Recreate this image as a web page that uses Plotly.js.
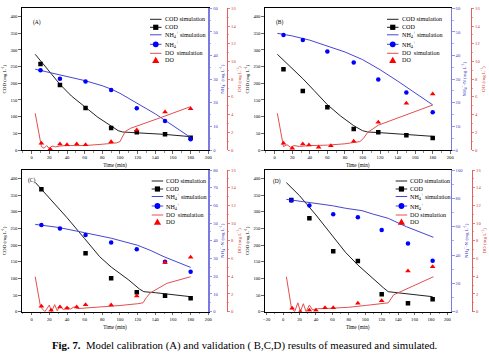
<!DOCTYPE html>
<html><head><meta charset="utf-8">
<script src="https://cdn.plot.ly/plotly-3.0.1.min.js"></script>
<style>html,body{margin:0;padding:0;background:#fff}#chart{width:489px;height:356px}</style>
</head><body><div id="chart"></div>
<script>
// ---------- Panel A (calibration) ----------
const tMeasA = [10, 32, 61, 90, 119, 151, 180];
const codMeasA = [258, 195, 126, 66, 53, 47, 37];
const nhMeasA = [33.8, 30.2, 29.0, 25.4, 17.7, 12.3, 4.5];
const tDoA = [11, 21, 32, 40, 51, 61, 90, 119, 151, 180];
const doMeasA = [0.75, 0.1, 0.68, 0.6, 0.68, 0.6, 0.94, 2.26, 4.3, 4.67];
const tCodSimA = [4, 10, 20, 32, 45, 61, 75, 90, 98, 103, 120, 150, 180];
const codSimA = [287, 268, 236, 197, 162, 128, 98, 72, 58, 54, 52, 47, 40];
const tNhSimA = [4, 20, 40, 60, 80, 90, 100, 120, 140, 160, 180];
const nhSimA = [34.2, 32.8, 31.2, 29.4, 27.2, 25.8, 24.0, 19.7, 15.3, 10.3, 5.3];
const tDoSimA = [4, 11, 14, 17, 20, 23, 27, 32, 40, 60, 80, 96, 100, 103, 106, 112, 120, 150, 180];
const doSimA = [4.14, 0.4, 0.2, 0.5, 0.15, 0.45, 0.35, 0.45, 0.5, 0.5, 0.65, 0.8, 0.95, 1.5, 2.1, 2.45, 2.75, 3.8, 4.9];

// ---------- Panel B ----------
const tMeasB = [10, 32, 60, 90, 118, 150, 180];
const codMeasB = [242, 177, 128, 63, 53, 44, 36];
const nhMeasB = [48.7, 46.6, 41.7, 37.1, 29.9, 24.4, 16.0];
const tDoB = [10, 20, 32, 39, 50, 64, 90, 118, 150, 180];
const doMeasB = [0.75, 0.19, 0.68, 0.56, 0.3, 0.49, 0.98, 3.12, 5.27, 6.33];
const tCodSimB = [3, 15, 32, 45, 60, 75, 90, 100, 106, 120, 150, 180];
const codSimB = [287, 258, 214, 178, 136, 102, 73, 58, 54, 52, 47, 41];
const tNhSimB = [3, 20, 40, 60, 80, 100, 120, 140, 160, 180];
const nhSimB = [49.4, 48.3, 46.5, 44.0, 41.5, 38.3, 34.0, 29.2, 24.3, 19.1];
const tDoSimB = [3, 10, 14, 18, 22, 28, 40, 60, 80, 97, 101, 106, 118, 150, 180];
const doSimB = [4.14, 0.38, 0.6, 0.3, 0.5, 0.4, 0.5, 0.55, 0.7, 0.95, 1.3, 2.0, 2.8, 3.95, 5.08];

// ---------- Panel C ----------
const tCodMeasC = [11, 61, 90, 119, 151, 180];
const codMeasC = [367, 175, 100, 58, 48, 40];
const tNhMeasC = [11, 32, 61, 90, 119, 151, 180];
const nhMeasC = [48.9, 47.0, 43.3, 39.0, 35.2, 28.2, 22.6];
const tDoC = [11, 22, 32, 40, 51, 61, 90, 119, 151, 180];
const doMeasC = [0.62, 0.15, 0.52, 0.38, 0.53, 0.78, 0.76, 1.77, 5.55, 6.14];
const tCodSimC = [4, 20, 40, 60, 77, 90, 110, 122, 127, 140, 160, 180];
const codSimC = [388, 342, 282, 219, 165, 134, 95, 68, 60, 57, 52, 45];
const tNhSimC = [4, 30, 60, 90, 120, 135, 150, 180];
const nhSimC = [49.3, 47.6, 44.6, 41.5, 37.5, 34.5, 31.0, 25.0];
const tDoSimC = [4, 10, 15, 20, 22.5, 26, 29, 32, 36, 40, 44, 48, 52, 60, 80, 100, 120, 126, 130, 134, 153, 180];
const doSimC = [3.95, 0.56, 0.0, 0.75, 0.0, 0.8, 0.1, 0.7, 0.2, 0.6, 0.3, 0.55, 0.35, 0.4, 0.5, 0.7, 0.9, 1.0, 1.6, 2.1, 3.2, 3.95];

// ---------- Panel D ----------
const tMeasD = [10, 32, 61, 91, 120, 152, 182];
const codMeasD = [335, 280, 181, 152, 52, 25, 37];
const nhMeasD = [78.5, 75.0, 68.8, 66.6, 57.7, 48.2, 36.0];
const tDoD = [11, 21, 32, 40, 51, 61, 91, 120, 152, 182];
const doMeasD = [0.38, 0.0, 0.15, 0.15, 0.45, 0.45, 0.95, 1.24, 4.6, 5.08];
const tCodSimD = [4, 20, 40, 60, 76, 91, 110, 122, 128, 140, 160, 182];
const codSimD = [387, 348, 290, 226, 178, 140, 97, 72, 60, 57, 52, 45];
const tNhSimD = [4, 30, 60, 76, 96, 110, 128, 150, 183];
const nhSimD = [79.3, 77.3, 74.8, 73.0, 71.3, 68.8, 65.9, 60.0, 52.5];
const tDoSimD = [4, 10, 14, 18, 21, 24.6, 28, 32, 36, 42, 50, 60, 80, 100, 120, 128, 134.5, 157, 183];
const doSimD = [3.95, 0.5, 0.0, 1.0, 0.0, 0.9, 0.0, 0.75, 0.2, 0.35, 0.35, 0.4, 0.5, 0.7, 0.9, 1.0, 1.9, 2.82, 3.95];

const legendLabels = ['COD simulation', 'COD', 'NH<sub>4</sub><sup>+</sup> simulation', 'NH<sub>4</sub><sup>+</sup>', 'DO\u00a0 simulation', 'DO'];
const legendLabelsD = ['COD simulation', 'COD', 'NH<sub>4</sub><sup>+</sup> simulation', 'NH<sub>4</sub><sup>+</sup>', 'DO simulation', 'DO'];
const panelLabels = ['(A)', '(B)', '(C)', '(D)'];
const nhTitles = ['NH<sub>4</sub><sup>+</sup> (mg L<sup>-1</sup>)', 'NH<sub>4</sub><sup>+</sup>-N (mg L<sup>-1</sup>)', 'NH<sub>4</sub><sup>+</sup>-N (mg L<sup>-1</sup>)', 'NH<sub>4</sub><sup>+</sup>-N (mg L<sup>-1</sup>)'];
const caption = '<b>Fig. 7.</b>\u00a0 Model calibration (A) and validation ( B,C,D) results of measured and simulated.';

const W = 489, H = 356;
const px = v => v / W;
const py = v => 1 - v / H;
const FONT = 'Liberation Serif, Times New Roman, serif';
const BLACK = '#222222', BLUE_L = '#4646d2', BLUE_M = '#0000ff', RED_L = '#e05050', RED_M = '#ff0000';
const BLUE_AX = '#7a7ae0', RED_AX = '#e06060';

const panels = [
  {rect:[21.7, 8.3, 208.3, 150], doPos:226.7, xr:[-11.3, 200], nh:[0, 60], nhDt:10, lx:150, lab:[36.7, 22.7],
   tcm:tMeasA, cm:codMeasA, tnm:tMeasA, nm:nhMeasA, tdm:tDoA, dm:doMeasA, tcs:tCodSimA, cs:codSimA, tns:tNhSimA, ns:nhSimA, tds:tDoSimA, ds:doSimA, leg:legendLabels},
  {rect:[264.7, 8.3, 450.7, 150], doPos:470.7, xr:[-11.4, 200.5], nh:[0, 60], nhDt:10, lx:387, lab:[280, 22.7],
   tcm:tMeasB, cm:codMeasB, tnm:tMeasB, nm:nhMeasB, tdm:tDoB, dm:doMeasB, tcs:tCodSimB, cs:codSimB, tns:tNhSimB, ns:nhSimB, tds:tDoSimB, ds:doSimB, leg:legendLabels},
  {rect:[21.7, 170, 208.3, 311.7], doPos:226.7, xr:[-11.3, 200], nh:[0, 80], nhDt:10, lx:151.7, lab:[32.3, 180],
   tcm:tCodMeasC, cm:codMeasC, tnm:tNhMeasC, nm:nhMeasC, tdm:tDoC, dm:doMeasC, tcs:tCodSimC, cs:codSimC, tns:tNhSimC, ns:nhSimC, tds:tDoSimC, ds:doSimC, leg:legendLabels},
  {rect:[264.7, 170, 450.7, 311.7], doPos:471.7, xr:[-22.4, 204], nh:[0, 100], nhDt:20, lx:395.7, lab:[277.3, 181],
   tcm:tMeasD, cm:codMeasD, tnm:tMeasD, nm:nhMeasD, tdm:tDoD, dm:doMeasD, tcs:tCodSimD, cs:codSimD, tns:tNhSimD, ns:nhSimD, tds:tDoSimD, ds:doSimD, leg:legendLabelsD}
];

const traces = [];
const layout = {
  width: W, height: H, margin:{l:0, r:0, t:0, b:0}, showlegend:false,
  paper_bgcolor:'#fff', plot_bgcolor:'rgba(0,0,0,0)',
  font:{family:FONT, size:5, color:'#000'},
  shapes:[], annotations:[]
};
const tf = {family:FONT, size:4.6};

panels.forEach((p, i) => {
  const xn = i + 1, yc = 3*i + 1, yn = 3*i + 2, yd = 3*i + 3;
  const xk = xn === 1 ? 'x' : 'x' + xn;
  const yck = yc === 1 ? 'y' : 'y' + yc;
  const ynk = 'y' + yn, ydk = 'y' + yd;
  const xdom = [px(p.rect[0]), px(p.rect[2])];
  const ydom = [py(p.rect[3]), py(p.rect[1])];
  layout['xaxis' + (xn === 1 ? '' : xn)] = {
    domain:xdom, anchor:yck, range:p.xr, tickmode:'linear', tick0:0, dtick:20,
    showline:true, linecolor:'#000', linewidth:1, mirror:true, ticks:'outside', ticklen:2.5, tickwidth:0.8,
    minor:{ticks:'outside', dtick:10, ticklen:1.5, tickwidth:0.6}, showgrid:false, zeroline:false,
    tickfont:tf, title:{text:'Time (min)', font:{family:FONT, size:5.2}, standoff:4}
  };
  layout['yaxis' + (yc === 1 ? '' : yc)] = {
    domain:ydom, anchor:xk, range:[0, 425], tickmode:'linear', tick0:0, dtick:50,
    showline:true, linecolor:'#000', linewidth:1, ticks:'outside', ticklen:2.5, tickwidth:0.8,
    showgrid:false, zeroline:false, tickfont:tf,
    title:{text:'COD (mg L<sup>-1</sup>)', font:{family:FONT, size:5}, standoff:3}
  };
  layout['yaxis' + yn] = {
    domain:ydom, anchor:xk, overlaying:yck, side:'right', range:p.nh, tickmode:'linear', tick0:0, dtick:p.nhDt,
    showline:true, linecolor:BLUE_AX, linewidth:1.5, ticks:'outside', ticklen:2.5, tickwidth:0.8, tickcolor:BLUE_AX,
    minor:{ticks:'outside', dtick:p.nhDt/2, ticklen:1.5, tickwidth:0.6, tickcolor:BLUE_AX},
    showgrid:false, zeroline:false, tickfont:{family:FONT, size:4.6, color:'#3a3ac8'},
    title:{text:nhTitles[i], font:{family:FONT, size:5, color:'#3a3ac8'}, standoff:2}
  };
  layout['yaxis' + yd] = {
    domain:ydom, anchor:'free', position:px(p.doPos), overlaying:yck, side:'right', range:[0, 16], tickmode:'linear', tick0:0, dtick:2,
    showline:true, linecolor:RED_AX, linewidth:1, ticks:'outside', ticklen:2.5, tickwidth:0.8, tickcolor:RED_AX,
    minor:{ticks:'outside', dtick:1, ticklen:1.5, tickwidth:0.6, tickcolor:RED_AX},
    showgrid:false, zeroline:false, tickfont:{family:FONT, size:4.6, color:'#d03838'},
    title:{text:'DO (mg L<sup>-1</sup>)', font:{family:FONT, size:5, color:'#d03838'}, standoff:2}
  };
  // simulation lines
  traces.push({x:p.tcs, y:p.cs, xaxis:xk, yaxis:yck, mode:'lines', line:{color:BLACK, width:1}, name:'COD simulation'});
  traces.push({x:p.tns, y:p.ns, xaxis:xk, yaxis:ynk, mode:'lines', line:{color:BLUE_L, width:1}, name:'NH4+ simulation'});
  traces.push({x:p.tds, y:p.ds, xaxis:xk, yaxis:ydk, mode:'lines', line:{color:RED_L, width:1}, name:'DO simulation'});
  // measured
  traces.push({x:p.tcm, y:p.cm, xaxis:xk, yaxis:yck, mode:'markers', marker:{symbol:'square', size:4.5, color:'#000'}, name:'COD'});
  traces.push({x:p.tnm, y:p.nm, xaxis:xk, yaxis:ynk, mode:'markers', marker:{symbol:'circle', size:4.5, color:BLUE_M}, name:'NH4+'});
  traces.push({x:p.tdm, y:p.dm, xaxis:xk, yaxis:ydk, mode:'markers', marker:{symbol:'triangle-up', size:5, color:RED_M}, name:'DO'});

  // panel label
  layout.annotations.push({xref:'paper', yref:'paper', x:px(p.lab[0]), y:py(p.lab[1]), text:panelLabels[i], showarrow:false,
    font:{family:FONT, size:5.5, color:'#000'}, xanchor:'center', yanchor:'middle'});

  // manual legend
  const top = p.rect[1];
  const rows = [11, 19, 26.5, 36, 45, 52];
  const x0 = p.lx, x1 = p.lx + 11.5, xc = (x0 + x1) / 2;
  const lineRow = (r, c) => layout.shapes.push({type:'line', xref:'paper', yref:'paper', x0:px(x0), x1:px(x1), y0:py(top + rows[r]), y1:py(top + rows[r]), line:{color:c, width:1}});
  lineRow(0, BLACK); lineRow(1, BLACK); lineRow(2, BLUE_L); lineRow(3, BLUE_L); lineRow(4, RED_L);
  const s = 2.6;
  layout.shapes.push({type:'rect', xref:'paper', yref:'paper', x0:px(xc - s), x1:px(xc + s), y0:py(top + rows[1] + s), y1:py(top + rows[1] - s), fillcolor:'#000', line:{width:0}});
  layout.shapes.push({type:'circle', xref:'paper', yref:'paper', x0:px(xc - 2.9), x1:px(xc + 2.9), y0:py(top + rows[3] + 2.9), y1:py(top + rows[3] - 2.9), fillcolor:BLUE_M, line:{width:0}});
  const ty = top + rows[5];
  layout.shapes.push({type:'path', xref:'paper', yref:'paper',
    path:'M ' + px(xc - 3.6) + ' ' + py(ty + 2.8) + ' L ' + px(xc + 3.6) + ' ' + py(ty + 2.8) + ' L ' + px(xc) + ' ' + py(ty - 3.6) + ' Z',
    fillcolor:RED_M, line:{width:0}});
  p.leg.forEach((t, r) => {
    layout.annotations.push({xref:'paper', yref:'paper', x:px(x1 + 1), y:py(top + rows[r]), text:t, showarrow:false,
      xanchor:'left', yanchor:'middle', font:{family:FONT, size:6.1, color:'#000'}});
  });
});

layout.annotations.push({xref:'paper', yref:'paper', x:px(244), y:py(345.5), text:caption, showarrow:false,
  xanchor:'center', yanchor:'middle', font:{family:FONT, size:10.8, color:'#000'}});

Plotly.newPlot('chart', traces, layout, {staticPlot:true, displayModeBar:false});
</script>
</body></html>
